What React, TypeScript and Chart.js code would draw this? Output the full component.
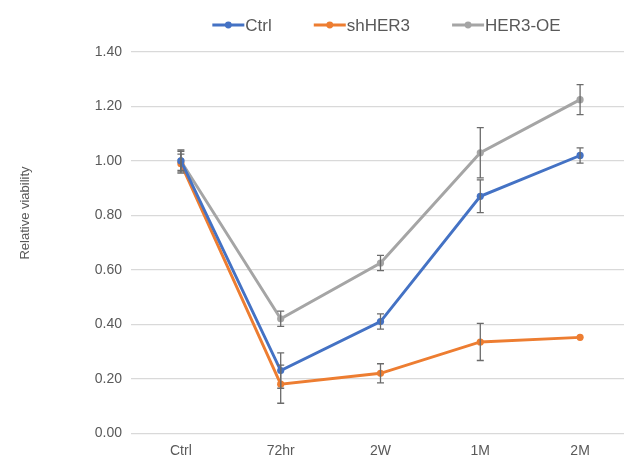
import React, { useEffect, useRef } from "react";
import { Chart, registerables } from "chart.js";

Chart.register(...registerables);

const categories = ["Ctrl", "72hr", "2W", "1M", "2M"];
const seriesNames = ["Ctrl", "shHER3", "HER3-OE"];
const ctrlValues = [1.0, 0.23, 0.41, 0.87, 1.02];
const ctrlErrors = [0.035, 0.065, 0.028, 0.06, 0.028];
const shValues = [0.99, 0.18, 0.22, 0.335, 0.352];
const shErrors = [0.035, 0.07, 0.035, 0.068, 0.0];
const oeValues = [1.0, 0.42, 0.625, 1.03, 1.225];
const oeErrors = [0.04, 0.028, 0.028, 0.092, 0.055];
const seriesColors = ["#4472C4", "#ED7D31", "#A5A5A5"];
const yTicks = [0, 0.2, 0.4, 0.6, 0.8, 1.0, 1.2, 1.4];
const yTitle = "Relative viability";

const FONT = "'Liberation Sans', Arial, sans-serif";

const errorBarPlugin = {
  id: "errorBars",
  afterDatasetsDraw(chart: any) {
    const ctx = chart.ctx;
    const yScale = chart.scales.y;
    chart.data.datasets.forEach((ds: any, di: number) => {
      const meta = chart.getDatasetMeta(di);
      const errs: number[] = ds.errors || [];
      meta.data.forEach((pt: any, i: number) => {
        const e = errs[i];
        if (!e) return;
        const v = ds.data[i].y;
        const yTop = yScale.getPixelForValue(v + e);
        const yBot = yScale.getPixelForValue(v - e);
        const x = pt.x;
        ctx.save();
        ctx.strokeStyle = "#6b6b6b";
        ctx.lineWidth = 1.3;
        ctx.beginPath();
        ctx.moveTo(x, yTop);
        ctx.lineTo(x, yBot);
        ctx.moveTo(x - 3.5, yTop);
        ctx.lineTo(x + 3.5, yTop);
        ctx.moveTo(x - 3.5, yBot);
        ctx.lineTo(x + 3.5, yBot);
        ctx.stroke();
        ctx.restore();
      });
    });
  },
};

const legendPlugin = {
  id: "customLegend",
  afterDraw(chart: any) {
    const ctx = chart.ctx;
    const xs = chart.scales.x;
    const spacing = xs.getPixelForValue(1) - xs.getPixelForValue(0);
    const centerX = chart.chartArea.left + spacing * 2.5 + 6;
    const y = 25;
    const lineLen = 32;
    const gap = 42;
    ctx.save();
    ctx.font = `17px ${FONT}`;
    const widths = seriesNames.map((n) => lineLen + 1 + ctx.measureText(n).width);
    const total = widths.reduce((a, b) => a + b, 0) + gap * (seriesNames.length - 1);
    let x = centerX - total / 2;
    seriesNames.forEach((n, i) => {
      ctx.strokeStyle = seriesColors[i];
      ctx.lineWidth = 2.8;
      ctx.beginPath();
      ctx.moveTo(x, y);
      ctx.lineTo(x + lineLen, y);
      ctx.stroke();
      ctx.fillStyle = seriesColors[i];
      ctx.beginPath();
      ctx.arc(x + lineLen / 2, y, 3.4, 0, Math.PI * 2);
      ctx.fill();
      ctx.fillStyle = "#595959";
      ctx.textBaseline = "middle";
      ctx.textAlign = "left";
      ctx.fillText(n, x + lineLen + 1, y + 1);
      x += widths[i] + gap;
    });
    // y-axis title
    ctx.translate(25, 213);
    ctx.rotate(-Math.PI / 2);
    ctx.font = `13px ${FONT}`;
    ctx.textAlign = "center";
    ctx.textBaseline = "middle";
    ctx.fillText(yTitle, 0, 0);
    ctx.restore();
  },
};

export default function App() {
  const canvasRef = useRef<HTMLCanvasElement | null>(null);

  useEffect(() => {
    document.body.style.margin = "0";
    const canvas = canvasRef.current;
    if (!canvas) return;
    const mk = (vals: number[]) => vals.map((v, i) => ({ x: i, y: v }));
    const allValues = [ctrlValues, shValues, oeValues];
    const allErrors = [ctrlErrors, shErrors, oeErrors];
    const chart = new Chart(canvas, {
      type: "line",
      data: {
        datasets: seriesNames.map((name, i) => ({
          label: name,
          data: mk(allValues[i]),
          errors: allErrors[i],
          borderColor: seriesColors[i],
          backgroundColor: seriesColors[i],
          borderWidth: 2.9,
          pointRadius: 3.6,
          pointBorderWidth: 0,
          pointBackgroundColor: seriesColors[i],
          tension: 0,
        })) as any,
      },
      options: {
        animation: false,
        responsive: true,
        maintainAspectRatio: false,
        layout: { autoPadding: false, padding: { top: 52, right: 0, bottom: 2, left: 0 } },
        plugins: {
          legend: { display: false },
          tooltip: { enabled: false },
        },
        scales: {
          x: {
            type: "linear",
            min: -0.5,
            max: 4.44,
            grid: { display: false, drawTicks: false },
            border: { display: false },
            afterBuildTicks: (scale: any) => {
              scale.ticks = categories.map((_, i) => ({ value: i }));
            },
            ticks: {
              autoSkip: false,
              maxRotation: 0,
              padding: 10,
              color: "#595959",
              font: { family: FONT, size: 14 },
              callback: (v: any) => categories[Math.round(Number(v))] ?? "",
            },
          },
          y: {
            min: 0,
            max: 1.4,
            afterBuildTicks: (scale: any) => {
              scale.ticks = yTicks.map((v) => ({ value: v }));
            },
            afterFit: (scale: any) => {
              scale.width = 131;
            },
            grid: { color: "#d9d9d9", lineWidth: 1.2, drawTicks: false },
            border: { display: false },
            ticks: {
              padding: 9,
              color: "#595959",
              font: { family: FONT, size: 14 },
              callback: (v: any) => Number(v).toFixed(2),
            },
          },
        },
      },
      plugins: [errorBarPlugin, legendPlugin],
    });
    return () => chart.destroy();
  }, []);

  return (
    <div style={{ position: "fixed", left: 0, top: 0, width: 624, height: 472, background: "#fff" }}>
      <canvas ref={canvasRef} />
    </div>
  );
}
